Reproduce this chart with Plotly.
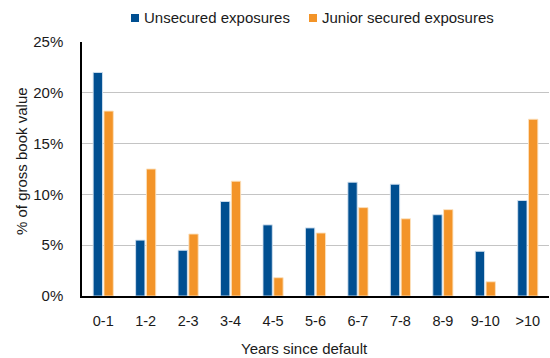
import plotly.graph_objects as go

# Share of gross book value by years since default
years = ["0-1", "1-2", "2-3", "3-4", "4-5", "5-6", "6-7", "7-8", "8-9", "9-10", ">10"]
unsecured = [22.0, 5.5, 4.5, 9.3, 7.0, 6.7, 11.2, 11.0, 8.0, 4.4, 9.4]
junior_secured = [18.2, 12.5, 6.1, 11.3, 1.8, 6.2, 8.7, 7.6, 8.5, 1.4, 17.4]
series_names = ["Unsecured exposures", "Junior secured exposures"]
y_ticks = [0, 5, 10, 15, 20, 25]
y_tick_text = ["0%", "5%", "10%", "15%", "20%", "25%"]

BLUE = "#004F91"
ORANGE = "#F39428"
FONT = "Liberation Sans, Arial, sans-serif"
TEXT = "#1a1a1a"

W, H = 550, 358
M = dict(l=82, r=1, t=42, b=62)
PW = W - M["l"] - M["r"]
PH = H - M["t"] - M["b"]


def px_x(x):
    """Pixel column -> paper x."""
    return (x - M["l"]) / PW


def px_y(y):
    """Pixel row (from top) -> paper y."""
    return (H - M["b"] - y) / PH


fig = go.Figure()
fig.add_trace(go.Bar(
    x=years, y=unsecured, name=series_names[0],
    marker=dict(color=BLUE, line=dict(color="rgba(210,225,240,0.9)", width=1)),
))
fig.add_trace(go.Bar(
    x=years, y=junior_secured, name=series_names[1],
    marker=dict(color=ORANGE, line=dict(color="rgba(252,225,190,0.9)", width=1)),
))

# Legend row above the plot: small square swatch followed by the series name
legend_items = [(131, BLUE, series_names[0]), (309, ORANGE, series_names[1])]
for left, color, name in legend_items:
    fig.add_shape(
        type="rect", xref="paper", yref="paper",
        x0=px_x(left), x1=px_x(left + 8), y0=px_y(22), y1=px_y(14),
        fillcolor=color, line=dict(width=0),
    )
    fig.add_annotation(
        xref="paper", yref="paper", x=px_x(left + 11), y=px_y(18),
        xanchor="left", yanchor="middle", showarrow=False,
        text=name, font=dict(size=15, color=TEXT),
    )

# Axis titles
fig.add_annotation(
    xref="paper", yref="paper", x=px_x(304), y=px_y(348),
    xanchor="center", yanchor="middle", showarrow=False,
    text="Years since default", font=dict(size=15, color=TEXT),
)
fig.add_annotation(
    xref="paper", yref="paper", x=px_x(21), y=px_y(161),
    xanchor="center", yanchor="middle", showarrow=False, textangle=-90,
    text="% of gross book value", font=dict(size=15, color=TEXT),
)

fig.update_layout(
    width=W, height=H,
    margin=M,
    paper_bgcolor="white", plot_bgcolor="white",
    font=dict(family=FONT, size=15, color=TEXT),
    barmode="group", bargap=0.49, bargroupgap=0.14,
    showlegend=False,
)
fig.update_xaxes(
    showline=True, linecolor="black", linewidth=1.5,
    showgrid=False, ticks="", ticklabelstandoff=11,
    tickfont=dict(size=14.5),
)
fig.update_yaxes(
    range=[0, 25], tickvals=y_ticks, ticktext=y_tick_text,
    showline=True, linecolor="black", linewidth=1.5,
    showgrid=True, gridcolor="#C4C4C4", gridwidth=1,
    zeroline=False, ticks="", ticklabelstandoff=14,
)

fig.write_html("out.html")
